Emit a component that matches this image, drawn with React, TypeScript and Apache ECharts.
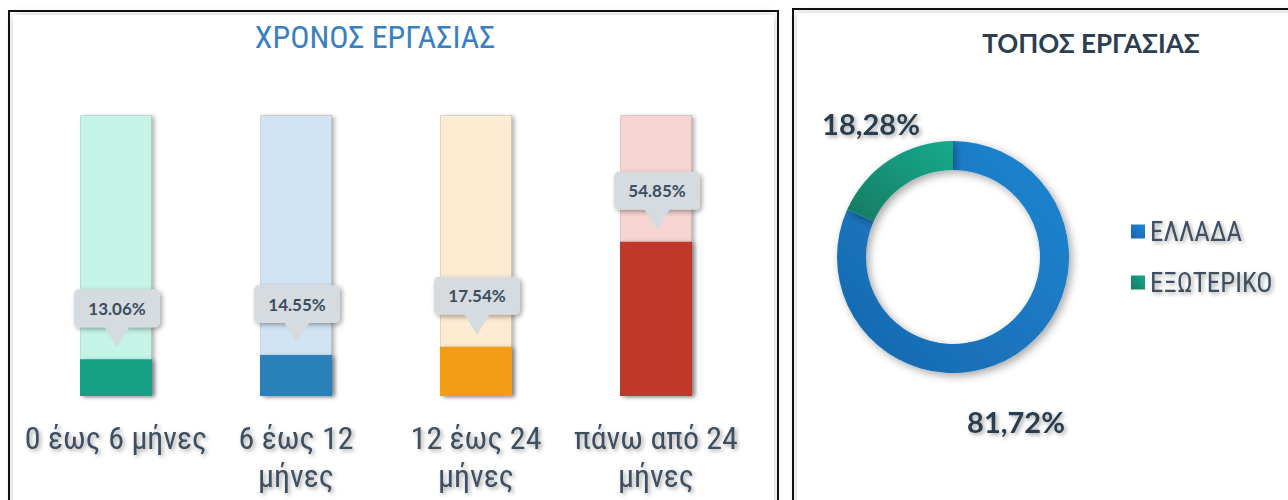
import React, { useEffect, useRef } from "react";
import * as echarts from "echarts";

const barCategories = ["0 έως 6 μήνες", "6 έως 12\nμήνες", "12 έως 24\nμήνες", "πάνω από 24\nμήνες"];
const barValues = [13.06, 14.55, 17.54, 54.85];
const barTotal = [100, 100, 100, 100];
const barColors = ["#16a085", "#2980b9", "#f39c12", "#c0392b"];
const barBgColors = ["#c4f4e8", "#d1e4f4", "#fdebd2", "#f5d4d2"];

const pieNames = ["ΕΛΛΑΔΑ", "ΕΞΩΤΕΡΙΚΟ"];
const pieValues = [81.72, 18.28];
const pieColors = ["#1a78c4", "#15a083"];

const NARROW = "'Roboto Condensed', 'DejaVu Sans Condensed', 'Liberation Sans', sans-serif";
const BOLD = "Lato, 'Noto Sans', sans-serif";

export default function App() {
  const ref = useRef<HTMLDivElement>(null);
  useEffect(() => {
    if (!ref.current) return;
    const chart = echarts.init(ref.current, null, { renderer: "svg" });
    const shadowText = {
      textShadowColor: "rgba(0,0,0,0.35)",
      textShadowBlur: 4,
      textShadowOffsetX: 2,
      textShadowOffsetY: 2,
    };
    const option: any = {
      animation: false,
      backgroundColor: "#ffffff",
      graphic: [
        { type: "rect", z: -10, shape: { x: 9, y: 11, width: 769, height: 500 }, style: { fill: "#fff", stroke: "#111", lineWidth: 2 } },
        { type: "rect", z: -9, shape: { x: 13, y: 15, width: 761, height: 500 }, style: { fill: "#fff", shadowBlur: 10, shadowColor: "rgba(0,0,0,0.22)" } },
        { type: "rect", z: -10, shape: { x: 793, y: 9, width: 520, height: 500 }, style: { fill: "#fff", stroke: "#111", lineWidth: 2 } },
        { type: "rect", z: -9, shape: { x: 797, y: 13, width: 520, height: 500 }, style: { fill: "#fff", shadowBlur: 10, shadowColor: "rgba(0,0,0,0.22)" } },
        {
          type: "text", x: 375, y: 37, z: 10,
          style: { text: "ΧΡΟΝΟΣ ΕΡΓΑΣΙΑΣ", align: "center", verticalAlign: "middle", fill: "#3a80c0", font: `32px ${NARROW}`, shadowColor: "rgba(0,0,0,0.3)", shadowBlur: 4, shadowOffsetX: 2, shadowOffsetY: 3 },
        },
        {
          type: "text", x: 1091, y: 43, z: 10,
          style: { text: "ΤΟΠΟΣ ΕΡΓΑΣΙΑΣ", align: "center", verticalAlign: "middle", fill: "#2c3e50", font: `bold 26px ${BOLD}`, shadowColor: "rgba(0,0,0,0.3)", shadowBlur: 4, shadowOffsetX: 2, shadowOffsetY: 3 },
        },
      ],
      grid: { left: 26, width: 720, top: 115, height: 281 },
      xAxis: {
        type: "category",
        data: barCategories,
        axisTick: { show: false },
        axisLine: { lineStyle: { color: "#c4c4c4", width: 2, shadowColor: "rgba(0,0,0,0.25)", shadowBlur: 3, shadowOffsetY: 2 } },
        axisLabel: {
          margin: 23,
          interval: 0,
          verticalAlign: "top",
          color: "#3e4f60",
          fontFamily: NARROW,
          fontSize: 32,
          lineHeight: 38,
          ...shadowText,
        },
      },
      yAxis: { type: "value", min: 0, max: 100, show: false, splitLine: { show: false } },
      legend: {
        orient: "vertical",
        left: 1126,
        top: 213,
        itemWidth: 14,
        itemHeight: 14,
        itemGap: 24,
        icon: "rect",
        data: pieNames,
        textStyle: { color: "#3e4f60", fontFamily: NARROW, fontSize: 27, ...shadowText },
      },
      series: [
        {
          type: "bar",
          data: barTotal.map((v, i) => ({ value: v, itemStyle: { color: barBgColors[i] } })),
          barWidth: 72,
          barGap: "-100%",
          silent: true,
          itemStyle: { borderColor: "rgba(0,0,0,0.12)", borderWidth: 1, shadowColor: "rgba(0,0,0,0.3)", shadowBlur: 4, shadowOffsetX: 3, shadowOffsetY: 1 },
          z: 1,
        },
        {
          type: "bar",
          data: barValues.map((v, i) => ({ value: v, itemStyle: { color: barColors[i] } })),
          barWidth: 72,
          barGap: "-100%",
          itemStyle: { shadowColor: "rgba(0,0,0,0.3)", shadowBlur: 4, shadowOffsetX: 3, shadowOffsetY: 1 },
          z: 2,
        },
        {
          type: "custom",
          z: 5,
          data: barValues.map((v, i) => [i, v]),
          renderItem: (params: any, api: any) => {
            const p = api.coord([api.value(0), api.value(1)]);
            const cx = p[0] + 1;
            const top = p[1];
            const bw = 86;
            const bh = 38;
            const bb = top - 32;
            const fill = "#d5dbde";
            return {
              type: "group",
              children: [
                {
                  type: "rect",
                  shape: { x: cx - bw / 2, y: bb - bh, width: bw, height: bh, r: 5 },
                  style: { fill, shadowBlur: 5, shadowColor: "rgba(0,0,0,0.35)", shadowOffsetX: 2, shadowOffsetY: 2 },
                },
                {
                  type: "polygon",
                  shape: { points: [[cx - 13, bb - 1], [cx + 13, bb - 1], [cx, top - 12]] },
                  style: { fill },
                },
                {
                  type: "text",
                  x: cx,
                  y: bb - bh / 2,
                  style: {
                    text: api.value(1).toFixed(2) + "%",
                    align: "center",
                    verticalAlign: "middle",
                    fill: "#3b4d5f",
                    font: `bold 17px ${BOLD}`,
                  },
                },
              ],
            };
          },
        },
        {
          type: "pie",
          center: [953, 257],
          radius: [87, 116],
          startAngle: 90,
          clockwise: true,
          data: pieNames.map((n, i) => ({
            name: n,
            value: pieValues[i],
            itemStyle: {
              color: i === 0
                ? new echarts.graphic.LinearGradient(1, 0, 0, 1, [{ offset: 0, color: "#1d86d2" }, { offset: 1, color: "#1867ad" }])
                : new echarts.graphic.LinearGradient(1, 0, 0, 1, [{ offset: 0, color: "#17ab8c" }, { offset: 1, color: "#117a62" }]),
            },
          })),
          color: pieColors,
          itemStyle: { shadowColor: "rgba(0,0,0,0.35)", shadowBlur: 8, shadowOffsetX: 3, shadowOffsetY: 3 },
          label: {
            show: true,
            formatter: (p: any) => p.value.toFixed(2).replace(".", ",") + "%",
            color: "#2c3e50",
            fontFamily: BOLD,
            fontWeight: "bold",
            fontSize: 29,
            ...shadowText,
          },
          labelLine: { show: false },
          labelLayout: (params: any) =>
            params.dataIndex === 0
              ? { x: 1016, y: 421, align: "center", verticalAlign: "middle" }
              : { x: 871, y: 123, align: "center", verticalAlign: "middle" },
          emphasis: { disabled: true },
        },
      ],
    };
    chart.setOption(option);
    return () => chart.dispose();
  }, []);
  return <div ref={ref} style={{ position: "fixed", left: 0, top: 0, width: 1288, height: 500 }} />;
}
